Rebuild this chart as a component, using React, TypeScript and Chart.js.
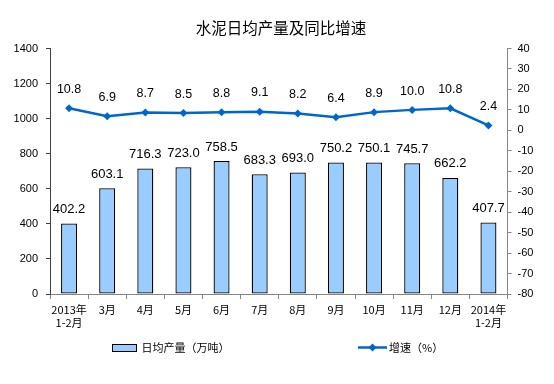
import React, { useEffect, useRef } from "react";
import { Chart, registerables } from "chart.js";

Chart.register(...registerables);

const title = "水泥日均产量及同比增速";
const categories: (string | string[])[] = [
  ["2013年", "1-2月"], "3月", "4月", "5月", "6月", "7月", "8月", "9月", "10月", "11月", "12月", ["2014年", "1-2月"],
];
const output = [402.2, 603.1, 716.3, 723.0, 758.5, 683.3, 693.0, 750.2, 750.1, 745.7, 662.2, 407.7];
const growth = [10.8, 6.9, 8.7, 8.5, 8.8, 9.1, 8.2, 6.4, 8.9, 10.0, 10.8, 2.4];
const barLabel = "日均产量（万吨）";
const lineLabel = "增速（%）";

const FONT = '"Liberation Sans", Arial, "Noto Sans CJK SC", sans-serif';
const CJK = '"Noto Sans CJK SC", "Liberation Sans", sans-serif';
const BAR_COLOR = "#99CCFF";
const LINE_COLOR = "#0066CC";

const W = 554;
const H = 384;
const LEFT = 50;
const RIGHT = 507.5;
const TOP = 48.5;
const BOTTOM = 294;

const decorPlugin = {
  id: "decor",
  afterDatasetsDraw(chart: any) {
    const ctx = chart.ctx;
    ctx.save();
    const barMeta = chart.getDatasetMeta(0);
    ctx.fillStyle = "#000";
    ctx.textAlign = "center";
    ctx.textBaseline = "middle";
    ctx.font = `13px ${FONT}`;
    barMeta.data.forEach((el: any, i: number) => {
      ctx.fillText(output[i].toFixed(1), el.x, el.y - 14);
    });
    const lineMeta = chart.getDatasetMeta(1);
    ctx.font = `12.5px ${FONT}`;
    lineMeta.data.forEach((el: any, i: number) => {
      ctx.fillText(growth[i].toFixed(1), el.x, el.y - 18.7);
    });
    ctx.restore();
  },
  afterDraw(chart: any) {
    const ctx = chart.ctx;
    ctx.save();
    ctx.fillStyle = "#000";
    ctx.textAlign = "center";
    ctx.textBaseline = "middle";
    ctx.font = `15.5px ${CJK}`;
    ctx.fillText(title, 281, 28.5);
    const ly = 347.5;
    ctx.fillStyle = BAR_COLOR;
    ctx.fillRect(112, 344, 25, 7);
    ctx.strokeStyle = "#000";
    ctx.lineWidth = 1;
    ctx.strokeRect(112.5, 344.5, 24, 7);
    ctx.fillStyle = "#000";
    ctx.textAlign = "left";
    ctx.font = `11px ${CJK}`;
    ctx.fillText(barLabel, 141.5, ly);
    ctx.strokeStyle = LINE_COLOR;
    ctx.lineWidth = 2.5;
    ctx.beginPath();
    ctx.moveTo(358, ly);
    ctx.lineTo(387, ly);
    ctx.stroke();
    ctx.fillStyle = LINE_COLOR;
    ctx.beginPath();
    ctx.moveTo(372.5, ly - 4);
    ctx.lineTo(376.5, ly);
    ctx.lineTo(372.5, ly + 4);
    ctx.lineTo(368.5, ly);
    ctx.closePath();
    ctx.fill();
    ctx.fillStyle = "#000";
    ctx.fillText(lineLabel, 389, ly);
    ctx.restore();
  },
};

export default function App() {
  const ref = useRef<HTMLCanvasElement | null>(null);
  useEffect(() => {
    document.body.style.margin = "0";
    const canvas = ref.current;
    if (!canvas) return;
    const chart = new Chart(canvas, {
      type: "bar",
      data: {
        labels: categories,
        datasets: [
          {
            type: "bar",
            label: barLabel,
            data: output,
            backgroundColor: BAR_COLOR,
            borderColor: "#000",
            borderWidth: 1.3,
            borderSkipped: false,
            barPercentage: 0.42,
            categoryPercentage: 1,
            yAxisID: "y",
            order: 2,
          },
          {
            type: "line",
            label: lineLabel,
            data: growth,
            borderColor: LINE_COLOR,
            backgroundColor: LINE_COLOR,
            borderWidth: 2.5,
            pointStyle: "rectRot",
            pointRadius: 4,
            pointBorderWidth: 0,
            tension: 0,
            yAxisID: "y1",
            order: 1,
          } as any,
        ],
      },
      options: {
        responsive: false,
        animation: false,
        events: [],
        layout: { padding: { top: TOP, left: 0, right: 0, bottom: 0 } },
        plugins: {
          legend: { display: false },
          title: { display: false },
          tooltip: { enabled: false },
        },
        scales: {
          x: {
            offset: true,
            grid: {
              offset: true,
              drawOnChartArea: false,
              drawTicks: true,
              tickLength: 5,
              color: "#868686",
            },
            border: { color: "#868686", width: 1 },
            ticks: {
              color: "#000",
              font: { family: CJK, size: 11, lineHeight: 1.2 },
              padding: 4,
              maxRotation: 0,
              autoSkip: false,
            },
            afterFit(scale: any) {
              scale.height = H - BOTTOM;
            },
          },
          y: {
            position: "left",
            min: 0,
            max: 1400,
            ticks: {
              stepSize: 200,
              color: "#000",
              font: { family: FONT, size: 11 },
              padding: 8,
              callback: (v: any) => String(v),
            },
            grid: {
              drawOnChartArea: false,
              drawTicks: true,
              tickLength: 4,
              color: "#404040",
            },
            border: { color: "#404040", width: 1 },
            afterFit(scale: any) {
              scale.width = LEFT;
            },
          },
          y1: {
            position: "right",
            min: -80,
            max: 40,
            ticks: {
              stepSize: 10,
              color: "#000",
              font: { family: FONT, size: 11 },
              padding: 6,
              callback: (v: any) => String(v),
            },
            grid: {
              drawOnChartArea: false,
              drawTicks: true,
              tickLength: 4,
              color: "#868686",
            },
            border: { color: "#868686", width: 1 },
            afterFit(scale: any) {
              scale.width = W - RIGHT;
            },
          },
        },
      },
      plugins: [decorPlugin],
    });
    return () => chart.destroy();
  }, []);
  return (
    <div style={{ position: "absolute", left: 0, top: 0, width: W, height: H, background: "#fff" }}>
      <canvas ref={ref} width={W} height={H} />
    </div>
  );
}
